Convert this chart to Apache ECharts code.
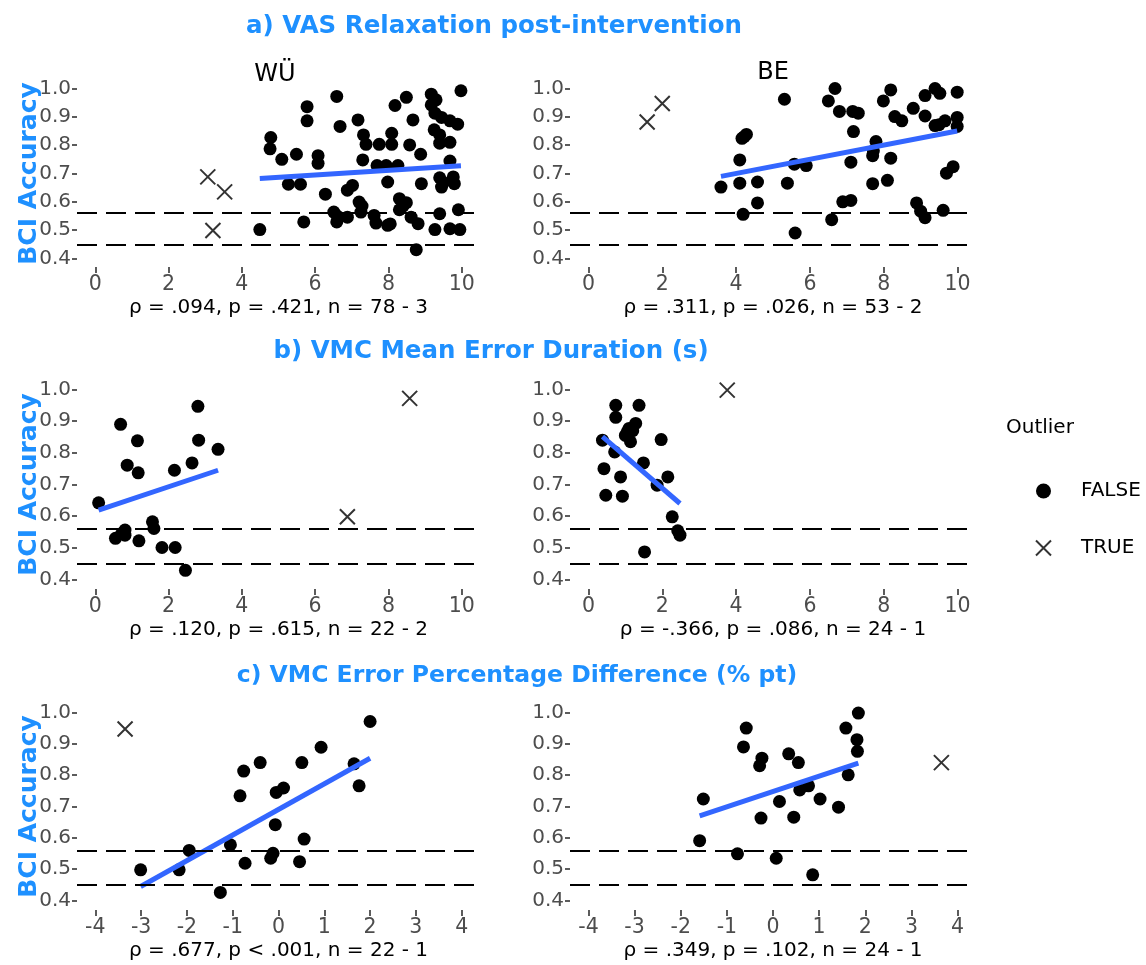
<!DOCTYPE html>
<html><head><meta charset="utf-8">
<script src="https://cdn.jsdelivr.net/npm/echarts@6/dist/echarts.min.js"></script>
<style>html,body{margin:0;padding:0;background:#fff}#c{width:1146px;height:965px}</style>
</head><body><div id="c"></div>
<script>
const FONT = 'DejaVu Sans';
const chanceLevels = [0.445, 0.555];
const yTicks = [0.4, 0.5, 0.6, 0.7, 0.8, 0.9, 1.0];
const xTicksVAS = [0, 2, 4, 6, 8, 10];
const xTicksDur = [0, 2, 4, 6, 8, 10];
const xTicksPct = [-4, -3, -2, -1, 0, 1, 2, 3, 4];
const sectionTitles = ['a) VAS Relaxation post-intervention', 'b) VMC Mean Error Duration (s)', 'c) VMC Error Percentage Difference (% pt)'];
const siteLabels = ['WÜ', 'BE'];
const legendTitle = 'Outlier';
const legendNames = ['FALSE', 'TRUE'];
const yAxisTitle = 'BCI Accuracy';
const captions = [
  'ρ = .094, p = .421, n = 78 - 3',
  'ρ = .311, p = .026, n = 53 - 2',
  'ρ = .120, p = .615, n = 22 - 2',
  'ρ = -.366, p = .086, n = 24 - 1',
  'ρ = .677, p < .001, n = 22 - 1',
  'ρ = .349, p = .102, n = 24 - 1'
];

// a) VAS relaxation, WÜ
const vasWU = [[4.79,0.827],[4.77,0.787],[5.09,0.750],[5.49,0.768],[5.78,0.936],[5.78,0.886],[6.08,0.763],[6.08,0.736],[6.59,0.972],[6.68,0.866],[7.17,0.889],[7.32,0.836],[7.39,0.803],[7.30,0.748],[7.75,0.803],[8.09,0.842],[8.09,0.803],[8.18,0.940],[8.49,0.969],[8.67,0.889],[8.58,0.801],[8.88,0.768],[9.17,0.980],[9.17,0.942],[9.27,0.913],[9.45,0.898],[9.68,0.886],[9.89,0.874],[9.25,0.854],[9.40,0.836],[9.40,0.807],[9.68,0.810],[9.98,0.992],[9.68,0.744],[7.69,0.728],[7.94,0.728],[8.26,0.728],
  [5.27,0.662],[5.60,0.662],[6.28,0.627],[6.88,0.641],[7.02,0.658],[4.49,0.502],[5.69,0.529],[6.51,0.564],[6.59,0.529],[6.88,0.546],[7.20,0.599],[7.25,0.564],[7.61,0.552],[7.66,0.525],[7.98,0.517],[7.98,0.670],[8.30,0.611],[8.49,0.597],[8.30,0.572],[8.62,0.546],[8.81,0.523],[8.76,0.431],[8.90,0.664],[9.40,0.685],[9.45,0.652],[9.77,0.688],[9.80,0.664],[9.40,0.558],[9.27,0.502],[9.68,0.505],[9.95,0.502],[9.91,0.572],
  [7.28,0.585],[8.05,0.522],[6.62,0.548],[9.50,0.668],[8.40,0.585],[9.30,0.960]];
const vasWU_out = [[3.07,0.688],[3.53,0.635],[3.21,0.499]];
const vasWU_fit = [[4.49,0.682],[9.98,0.727]];

// a) VAS relaxation, BE
const vasBE = [[6.68,1.0],[5.31,0.962],[6.50,0.956],[6.80,0.919],[7.16,0.919],[7.31,0.913],[7.18,0.848],[8.19,0.995],[7.99,0.956],[8.30,0.901],[8.49,0.886],[8.80,0.930],[9.12,0.975],[9.12,0.903],[9.39,1.0],[9.52,0.983],[9.99,0.987],[9.39,0.869],[9.66,0.886],[9.99,0.898],[9.99,0.866],[4.16,0.824],[4.28,0.838],[4.10,0.748],[5.58,0.733],[5.90,0.728],[7.11,0.740],[7.79,0.813],[7.70,0.763],[8.19,0.754],[9.88,0.724],[9.70,0.701],
  [3.59,0.652],[4.10,0.666],[4.58,0.670],[5.39,0.666],[4.58,0.596],[4.19,0.556],[5.60,0.490],[6.59,0.537],[6.89,0.600],[7.11,0.605],[7.70,0.664],[8.10,0.676],[8.89,0.596],[9.00,0.567],[9.12,0.544],[9.61,0.570],
  [4.22,0.830],[9.50,0.872],[7.72,0.780]];
const vasBE_out = [[1.59,0.882],[2.00,0.947]];
const vasBE_fit = [[3.59,0.690],[9.99,0.850]];

// b) VMC mean error duration, WÜ
const durWU = [[0.09,0.642],[0.69,0.890],[0.87,0.761],[1.15,0.838],[1.17,0.737],[0.55,0.530],[0.81,0.556],[0.81,0.540],[1.19,0.522],[1.56,0.582],[1.60,0.561],[1.82,0.501],[2.18,0.501],[2.46,0.429],[2.16,0.745],[2.64,0.768],[2.80,0.947],[2.82,0.840],[3.35,0.811],[0.72,0.545]];
const durWU_out = [[8.58,0.972],[6.88,0.598]];
const durWU_fit = [[0.09,0.619],[3.35,0.745]];

// b) VMC mean error duration, BE
const durBE = [[0.38,0.840],[0.42,0.750],[0.47,0.666],[0.74,0.950],[0.74,0.912],[0.71,0.803],[0.87,0.724],[0.92,0.663],[1.05,0.866],[1.10,0.877],[1.14,0.835],[1.28,0.893],[1.37,0.950],[1.49,0.768],[1.52,0.487],[1.86,0.698],[1.97,0.842],[2.15,0.724],[2.27,0.598],[2.42,0.554],[2.48,0.540],[1.00,0.855],[1.20,0.870]];
const durBE_out = [[3.76,0.998]];
const durBE_fit = [[0.38,0.851],[2.48,0.640]];

// c) VMC error percentage difference, WÜ
const pctWU = [[-3.01,0.498],[-2.17,0.498],[-1.95,0.560],[-1.27,0.426],[-1.05,0.578],[-0.84,0.734],[-0.76,0.813],[-0.73,0.519],[-0.40,0.840],[-0.07,0.642],[-0.17,0.535],[-0.12,0.551],[-0.05,0.745],[0.11,0.759],[0.51,0.840],[0.46,0.524],[0.56,0.596],[0.93,0.889],[1.65,0.836],[1.76,0.766],[2.00,0.971]];
const pctWU_out = [[-3.35,0.947]];
const pctWU_fit = [[-3.01,0.445],[2.00,0.854]];

// c) VMC error percentage difference, BE
const pctBE = [[-1.51,0.724],[-1.59,0.591],[-0.77,0.549],[-0.58,0.950],[-0.64,0.890],[-0.24,0.854],[-0.29,0.830],[-0.26,0.663],[0.14,0.716],[0.07,0.535],[0.34,0.868],[0.55,0.840],[0.45,0.666],[0.58,0.753],[0.77,0.766],[1.02,0.724],[0.86,0.482],[1.42,0.698],[1.58,0.950],[1.63,0.801],[1.85,0.998],[1.82,0.913],[1.83,0.876]];
const pctBE_out = [[3.65,0.840]];
const pctBE_fit = [[-1.59,0.670],[1.85,0.838]];

// ---------- layout ----------
const COLS = [{left: 77, width: 403}, {left: 570, width: 406}];
const ROWS = [{top: 80, height: 187}, {top: 380, height: 209}, {top: 703, height: 207}];
const panels = [
  {row:0, col:0, pts:vasWU, out:vasWU_out, fit:vasWU_fit, ticks:xTicksVAS, min:-0.5, max:10.5},
  {row:0, col:1, pts:vasBE, out:vasBE_out, fit:vasBE_fit, ticks:xTicksVAS, min:-0.5, max:10.5},
  {row:1, col:0, pts:durWU, out:durWU_out, fit:durWU_fit, ticks:xTicksDur, min:-0.5, max:10.5},
  {row:1, col:1, pts:durBE, out:durBE_out, fit:durBE_fit, ticks:xTicksDur, min:-0.5, max:10.5},
  {row:2, col:0, pts:pctWU, out:pctWU_out, fit:pctWU_fit, ticks:xTicksPct, min:-4.4, max:4.4},
  {row:2, col:1, pts:pctBE, out:pctBE_out, fit:pctBE_fit, ticks:xTicksPct, min:-4.4, max:4.4}
];
const XPATH = 'path://M0,0L10,10M10,0L0,10';

const grid = [], xAxis = [], yAxis = [], series = [];
panels.forEach((p, i) => {
  grid.push({left: COLS[p.col].left, width: COLS[p.col].width, top: ROWS[p.row].top, height: ROWS[p.row].height});
  xAxis.push({
    type: 'value', gridIndex: i, min: p.min, max: p.max,
    axisLine: {show: false, onZero: false}, splitLine: {show: false},
    axisTick: {show: true, customValues: p.ticks, length: 6, lineStyle: {color: '#333', width: 1.6}},
    axisLabel: {customValues: p.ticks, margin: 7, color: '#4d4d4d', fontSize: 20.5, fontFamily: FONT},
    name: captions[i], nameLocation: 'middle', nameGap: 31,
    nameTextStyle: {color: '#000', fontSize: 20, fontFamily: FONT}
  });
  yAxis.push({
    type: 'value', gridIndex: i, min: 0.37, max: 1.03,
    axisLine: {show: false, onZero: false}, splitLine: {show: false},
    axisTick: {show: true, customValues: yTicks, length: 5, lineStyle: {color: '#333', width: 1.6}},
    axisLabel: {customValues: yTicks, margin: 6, color: '#4d4d4d', fontSize: 20, fontFamily: FONT,
      formatter: v => v.toFixed(1)},
    name: p.col === 0 ? yAxisTitle : '', nameLocation: 'middle', nameRotate: 90, nameGap: 35,
    nameMoveOverlap: false,
    nameTextStyle: {color: '#1e90ff', fontSize: 25, fontWeight: 'bold', fontFamily: FONT}
  });
  series.push({
    type: 'line', name: 'chance', xAxisIndex: i, yAxisIndex: i, data: [], z: 1, silent: true,
    markLine: {silent: true, symbol: ['none', 'none'], label: {show: false},
      lineStyle: {color: '#000', width: 2.2, type: [20, 9]},
      data: chanceLevels.map(v => ({yAxis: v}))}
  });
  series.push({
    type: 'scatter', name: legendNames[0], xAxisIndex: i, yAxisIndex: i, data: p.pts, z: 2,
    symbol: 'circle', symbolSize: 13, itemStyle: {color: '#000', opacity: 1}
  });
  series.push({
    type: 'scatter', name: legendNames[1], xAxisIndex: i, yAxisIndex: i, data: p.out, z: 2,
    symbol: XPATH, symbolSize: 15,
    itemStyle: {color: 'rgba(0,0,0,0)', borderColor: '#000', borderWidth: 2}
  });
  series.push({
    type: 'line', name: 'fit', xAxisIndex: i, yAxisIndex: i, data: p.fit, z: 3,
    symbol: 'none', lineStyle: {color: '#3366ff', width: 5}
  });
});

const textEl = (t, x, y, size, color, weight, align) => ({
  type: 'text', x: x, y: y,
  style: {text: t, fill: color, fontSize: size, fontWeight: weight || 'normal', fontFamily: FONT,
    textAlign: align || 'center', textVerticalAlign: 'middle'}
});
const graphic = [
  textEl(sectionTitles[0], 494, 27, 24.5, '#1e90ff', 'bold'),
  textEl(sectionTitles[1], 491, 352, 24.5, '#1e90ff', 'bold'),
  textEl(sectionTitles[2], 517, 676, 23.5, '#1e90ff', 'bold'),
  textEl(siteLabels[0], 275, 75, 24, '#000'),
  textEl(siteLabels[1], 773, 73, 24, '#000'),
  textEl(legendTitle, 1006, 428, 20, '#000', 'normal', 'left')
];

const chart = echarts.init(document.getElementById('c'), null, {renderer: 'canvas'});
chart.setOption({
  animation: false,
  backgroundColor: '#fff',
  grid, xAxis, yAxis, series, graphic,
  legend: {
    data: legendNames, orient: 'vertical', left: 1030, top: 476,
    itemWidth: 15, itemHeight: 15, itemGap: 37, selectedMode: false,
    textStyle: {color: '#000', fontSize: 20, fontFamily: FONT, padding: [0, 0, 0, 25]}
  }
});
</script></body></html>
